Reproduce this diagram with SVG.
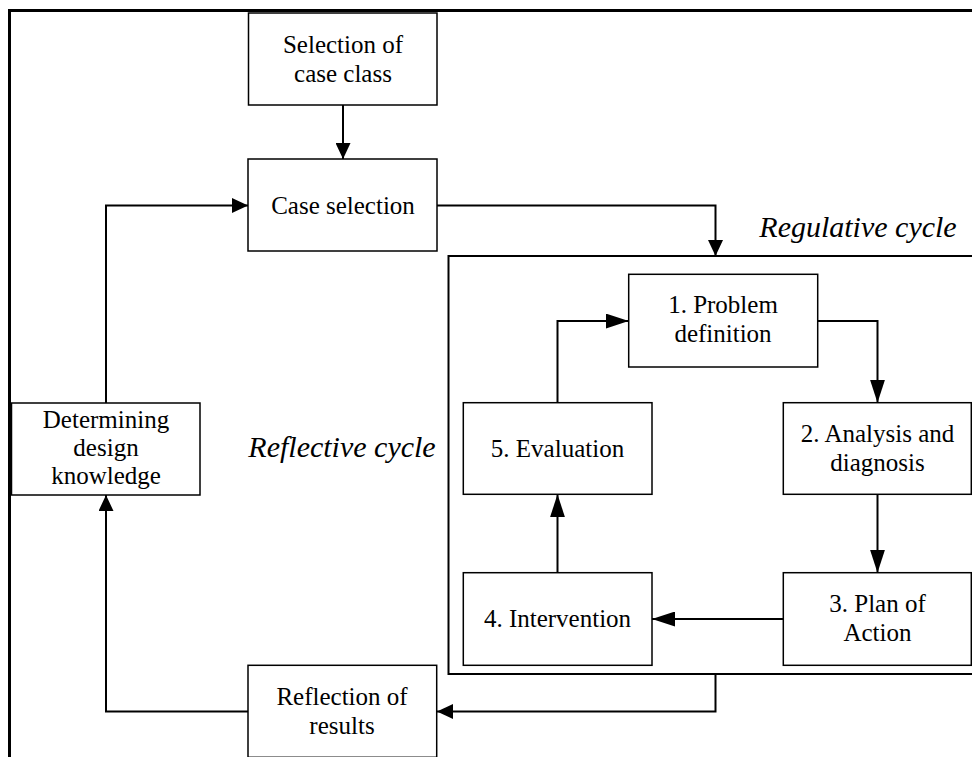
<svg xmlns="http://www.w3.org/2000/svg" width="972" height="757" viewBox="0 0 972 757">
<style>
.box{fill:#fff;stroke:#000;stroke-width:1.5}
text{font-family:'Liberation Serif','Times New Roman',Times,serif;fill:#000;text-anchor:middle}
.t{font-size:25px}
.lbl{font-size:30px;font-style:italic}
.c{fill:none;stroke:#000;stroke-width:2}
.cs{marker-end:url(#ah)}
.ci{marker-end:url(#ahl)}
</style>
<defs>
<marker id="ah" markerUnits="userSpaceOnUse" markerWidth="16" markerHeight="15" refX="16" refY="7.5" orient="auto">
<path d="M0,0 L16,7.5 L0,15 z" fill="#000"/>
</marker>
<marker id="ahl" markerUnits="userSpaceOnUse" markerWidth="23" markerHeight="15" refX="23" refY="7.5" orient="auto">
<path d="M0,0 L23,7.5 L0,15 z" fill="#000"/>
</marker>
</defs>
<rect x="0" y="0" width="972" height="757" fill="#fff"/>
<rect id="frame" x="9.5" y="10.5" width="1000" height="800" fill="none" stroke="#000" stroke-width="3"/>
<rect id="regulative" x="448.5" y="256" width="540" height="418" fill="none" stroke="#000" stroke-width="2"/>
<text class="lbl" x="858" y="237">Regulative cycle</text>
<text class="lbl" x="342" y="457">Reflective cycle</text>
<g id="connectors">
<path class="c cs" d="M343,105 L343,159"/>
<path class="c cs" d="M106,403 L106,205.5 L248,205.5"/>
<path class="c cs" d="M437,205.5 L715.5,205.5 L715.5,256"/>
<path class="c ci" d="M557.5,402.7 L557.5,321 L628.7,321"/>
<path class="c ci" d="M817.7,321 L877.5,321 L877.5,402.7"/>
<path class="c ci" d="M877.5,494.3 L877.5,572.7"/>
<path class="c ci" d="M783.3,619 L652,619"/>
<path class="c ci" d="M557.5,572.7 L557.5,494.3"/>
<path class="c cs" d="M715.5,674 L715.5,711.5 L437,711.5"/>
<path class="c cs" d="M248,711.5 L106,711.5 L106,495"/>
</g>
<g id="n-selection-class">
<rect class="box" x="248.5" y="13" width="188.5" height="92"/>
<text class="t" x="343" y="53">Selection of</text>
<text class="t" x="343" y="82">case class</text>
</g>
<g id="n-case-selection">
<rect class="box" x="248" y="159" width="189" height="92"/>
<text class="t" x="343" y="214">Case selection</text>
</g>
<g id="n-determining">
<rect class="box" x="11.5" y="403" width="188.5" height="92"/>
<text class="t" x="106" y="428">Determining</text>
<text class="t" x="106" y="456">design</text>
<text class="t" x="106" y="484">knowledge</text>
</g>
<g id="n-reflection">
<rect class="box" x="248" y="665.3" width="188.7" height="92"/>
<text class="t" x="342" y="705">Reflection of</text>
<text class="t" x="342" y="734">results</text>
</g>
<g id="n-problem">
<rect class="box" x="628.7" y="274.3" width="189" height="92.7"/>
<text class="t" x="723" y="313">1. Problem</text>
<text class="t" x="723" y="342">definition</text>
</g>
<g id="n-evaluation">
<rect class="box" x="463.3" y="402.7" width="188.7" height="91.6"/>
<text class="t" x="557.5" y="457">5. Evaluation</text>
</g>
<g id="n-analysis">
<rect class="box" x="783.3" y="402.7" width="188" height="91.6"/>
<text class="t" x="877.5" y="442">2. Analysis and</text>
<text class="t" x="877.5" y="471">diagnosis</text>
</g>
<g id="n-plan">
<rect class="box" x="783.3" y="572.7" width="188" height="92.6"/>
<text class="t" x="877.5" y="612">3. Plan of</text>
<text class="t" x="877.5" y="641">Action</text>
</g>
<g id="n-intervention">
<rect class="box" x="463.3" y="572.7" width="188.7" height="92.6"/>
<text class="t" x="557.5" y="627">4. Intervention</text>
</g>
</svg>
